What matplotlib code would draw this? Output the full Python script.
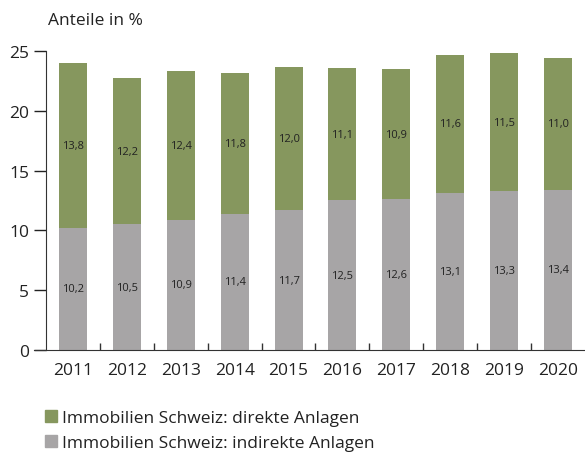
import matplotlib.pyplot as plt
from matplotlib.patches import Patch

plt.rcParams['font.family'] = ['Open Sans', 'DejaVu Sans']

years = ["2011", "2012", "2013", "2014", "2015", "2016", "2017", "2018", "2019", "2020"]
indirekt = [10.2, 10.5, 10.9, 11.4, 11.7, 12.5, 12.6, 13.1, 13.3, 13.4]
direkt = [13.8, 12.2, 12.4, 11.8, 12.0, 11.1, 10.9, 11.6, 11.5, 11.0]
y_ticks = [0, 5, 10, 15, 20, 25]

GREEN = "#86975E"
GREY = "#A7A5A6"
TEXT = "#222222"

fig = plt.figure(figsize=(5.85, 4.56), dpi=100)
ax = fig.add_axes([0.0786, 0.2303, 0.9214, 0.6557])

x = range(len(years))
ax.bar(x, indirekt, width=0.52, color=GREY)
ax.bar(x, direkt, width=0.52, bottom=indirekt, color=GREEN)

fmt = lambda v: f"{v:.1f}".replace(".", ",")
for i, (a, b) in enumerate(zip(indirekt, direkt)):
    ax.text(i, a / 2, fmt(a), ha="center", va="center", fontsize=8, color=TEXT)
    ax.text(i, a + b / 2, fmt(b), ha="center", va="center", fontsize=8, color=TEXT)

ax.set_xlim(-0.5, len(years) - 0.5)
ax.set_ylim(0, 25)
ax.set_yticks(y_ticks)
ax.tick_params(axis="y", length=9, width=1, labelsize=12.5, colors=TEXT, pad=3)

# year labels centred under bars, tick marks at category boundaries
ax.set_xticks([i + 0.5 for i in range(len(years) - 1)])
ax.set_xticklabels([])
ax.tick_params(axis="x", direction="in", length=5, width=1, colors="#333333")
for i, yr in enumerate(years):
    ax.text(i, -1.0, yr, ha="center", va="top", fontsize=12.5, color=TEXT)

for s in ["top", "right"]:
    ax.spines[s].set_visible(False)
ax.spines["left"].set_color("#333333")
ax.spines["bottom"].set_color("#333333")
ax.spines["bottom"].set_bounds(-0.72, len(years) - 0.5)

fig.text(0.082, 0.955, "Anteile in %", fontsize=12.5, color=TEXT, va="center")

handles = [Patch(color=GREEN, label="Immobilien Schweiz: direkte Anlagen"),
           Patch(color=GREY, label="Immobilien Schweiz: indirekte Anlagen")]
fig.legend(handles=handles, loc="upper left", bbox_to_anchor=(0.077, 0.098),
           frameon=False, fontsize=12.5, handlelength=0.7, handleheight=0.7,
           handletextpad=0.3, labelspacing=0.5, borderaxespad=0, borderpad=0,
           labelcolor=TEXT)

fig.savefig("out.png", dpi=100)
